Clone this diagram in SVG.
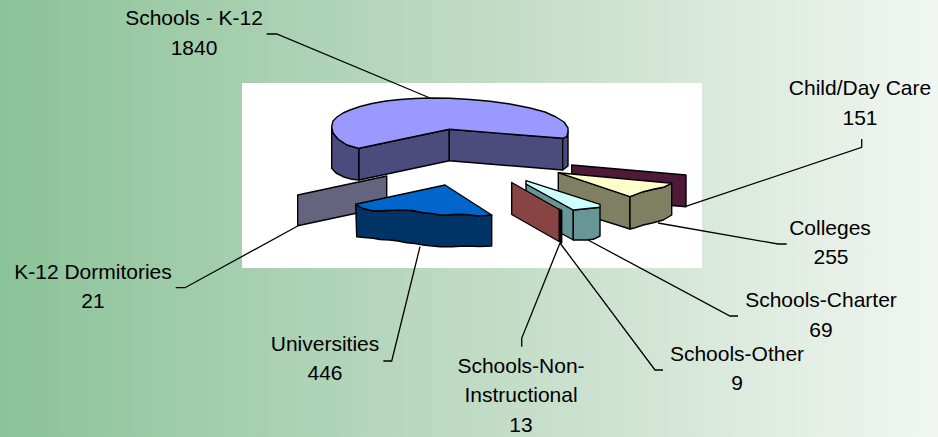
<svg xmlns="http://www.w3.org/2000/svg" width="938" height="437" viewBox="0 0 938 437">
<defs>
<linearGradient id="bg" x1="0" y1="0" x2="1" y2="0">
<stop offset="0" stop-color="#8bc398"/>
<stop offset="0.45" stop-color="#bad8bf"/>
<stop offset="1" stop-color="#f1f6f1"/>
</linearGradient>
</defs>
<style>
.s{stroke:#000;stroke-width:1.4;stroke-linejoin:round}
.t{font-family:"Liberation Sans",Arial,sans-serif;font-size:21px;fill:#000;text-anchor:middle}
.ln{fill:none;stroke:#000;stroke-width:1.3}
</style>
<rect width="938" height="437" fill="url(#bg)"/>
<rect x="242" y="83" width="460" height="185" fill="#fff"/>

<g id="k12-dormitories">
<polygon class="s" fill="#64647f" points="297.7,195 386.7,176 386.7,206.7 297.7,225.7"/>
<text class="t" x="93" y="279">K-12 Dormitories</text>
<text class="t" x="93" y="308">21</text>
</g>

<g id="schools-k12">
<polygon class="s" fill="#4b4b7e" points="331.7,128 331.7,168.3 336,173 344,177 352,179.3 359,180 359,148.3 347,145 338,139 333,133"/>
<polygon class="s" fill="#4b4b7e" points="359,148.3 449.3,129.3 449.3,160.7 359,180"/>
<polygon class="s" fill="#4b4b7e" points="449.3,129.3 562.7,138.3 562.7,170 449.3,160.7"/>
<polygon class="s" fill="#4b4b7e" points="562.7,138.3 566.7,136.7 568,132 568,166 562.7,170"/>
<polygon class="s" fill="#9999ff" points="331.7,126.7 333,121 337,117 343,113 350,110 360,106.5 372,103.5 386,101 400,99.5 415,98.5 430,98 450,98.3 470,99.5 490,101.3 510,104 530,108 545,112 556,117 564,122 568,128 568,132 566.7,136.7 562.7,138.3 449.3,129.3 359,148.3 347,145 338,139 333,133"/>
<text class="t" x="194" y="25">Schools - K-12</text>
<text class="t" x="194" y="55">1840</text>
</g>

<g id="universities">
<polygon class="s" fill="#003366" points="355.7,204.3 363,208.5 373.3,211 387,210.5 400,210 412,210.5 423.3,212.7 432,213.5 440,215 448,215 456.7,214.3 466,214.5 476.7,215.7 485,215.5 491.7,215 491.7,246 480,246.5 465,246 452,246.8 440,246.7 430,245.8 423.3,245 415,243.5 406.7,242.7 398,241 390,240 380,239.5 373.3,238.3 364,237.5 356.7,236.7"/>
<polygon class="s" fill="#0066cc" points="355.7,204.3 445,185 491.7,215 485,215.5 476.7,215.7 466,214.5 456.7,214.3 448,215 440,215 432,213.5 423.3,212.7 412,210.5 400,210 387,210.5 373.3,211 363,208.5"/>
<text class="t" x="325" y="351">Universities</text>
<text class="t" x="325" y="380">446</text>
</g>

<g id="child-day-care">
<polygon class="s" fill="#4f1a38" points="571.7,165 686,175 686,206.7 571.7,197"/>
<text class="t" x="860" y="95">Child/Day Care</text>
<text class="t" x="860" y="125">151</text>
</g>

<g id="colleges">
<polygon class="s" fill="#7f7f62" points="558.3,172.7 630,196.7 630,229 558.3,206.7"/>
<polygon class="s" fill="#7f7f62" points="630,196.7 643.3,191.7 653.3,189.3 663.3,187.3 671.7,183.3 671.7,215 663.3,220 653.3,222.7 643.3,225 633.3,228.3 630,229"/>
<polygon class="s" fill="#ffffcc" points="558.3,172.7 671.7,183.3 663.3,187.3 653.3,189.3 643.3,191.7 630,196.7"/>
<text class="t" x="830" y="235">Colleges</text>
<text class="t" x="831" y="264">255</text>
</g>

<g id="schools-charter">
<polygon class="s" fill="#669696" points="526,184 573.3,210 573.3,240 526,214"/>
<polygon class="s" fill="#669696" points="573.3,210 600,207.3 600,236 593.3,239.3 586.7,240 573.3,240"/>
<polygon class="s" fill="#ccffff" points="526,180.7 600,204.3 600,207.3 573.3,210 526,184"/>
<text class="t" x="821" y="307">Schools-Charter</text>
<text class="t" x="821" y="337">69</text>
</g>

<g id="schools-other">
<text class="t" x="737" y="361">Schools-Other</text>
<text class="t" x="737" y="390">9</text>
</g>

<g id="schools-non-instructional">
<polygon class="s" fill="#884343" points="511.7,182.5 558.5,209 561.7,210.5 561.7,243 511.7,214.5"/>
<polygon fill="#000" points="558.5,209 561.7,210.5 561.7,243 558.5,241.2"/>
<text class="t" x="521" y="373">Schools-Non-</text>
<text class="t" x="521" y="402">Instructional</text>
<text class="t" x="521" y="432">13</text>
</g>

<g id="connectors">
<path class="ln" d="M266.7,34 H276.7 L430,98"/>
<path class="ln" d="M861.7,139 V147.3 L685,206.7"/>
<path class="ln" d="M658,223 L778,244 H786.7"/>
<path class="ln" d="M588,240 L730,316 H738"/>
<path class="ln" d="M560,243 L655,370 H663"/>
<path class="ln" d="M560,243 L521.7,338.3 V346.7"/>
<path class="ln" d="M175.7,287.7 H185 L297.7,226"/>
<path class="ln" d="M383.3,361 H391.7 L420,246.7"/>
</g>
</svg>
